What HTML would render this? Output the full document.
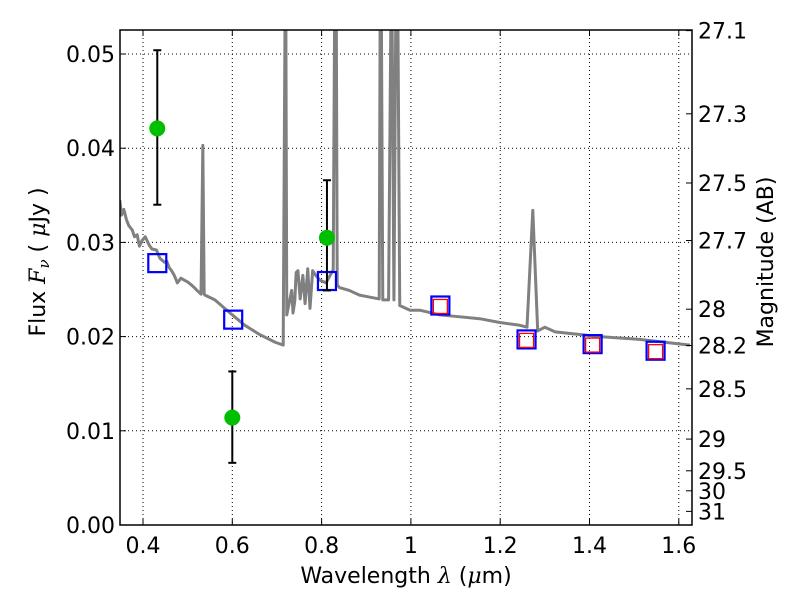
<!DOCTYPE html>
<html><head><meta charset="utf-8"><style>
body{margin:0;background:#fff;}
svg{font-family:"DejaVu Sans","Liberation Sans",sans-serif;}
</style></head><body>
<svg id="c" width="800" height="600"></svg>
<script>
const specWave=[0.348,0.352,0.357,0.363,0.368,0.376,0.381,0.387,0.392,0.398,0.405,0.414,0.420,0.430,0.438,0.448,0.453,0.459,0.464,0.470,0.477,0.485,0.492,0.500,0.508,0.515,0.521,0.530,0.534,0.537,0.539,0.561,0.595,0.628,0.662,0.696,0.714,0.718,0.720,0.722,0.733,0.736,0.740,0.743,0.747,0.752,0.758,0.763,0.769,0.774,0.780,0.787,0.796,0.810,0.826,0.829,0.833,0.835,0.840,0.862,0.885,0.907,0.929,0.931,0.934,0.937,0.950,0.955,0.958,0.962,0.966,0.971,0.975,0.998,1.020,1.065,1.110,1.154,1.199,1.244,1.260,1.273,1.284,1.300,1.323,1.423,1.512,1.625];
const specFlux=[0.0345,0.0329,0.0335,0.0324,0.0318,0.0313,0.0306,0.0308,0.0296,0.0302,0.0306,0.0297,0.0293,0.0292,0.0283,0.0279,0.0280,0.0273,0.0270,0.0265,0.0257,0.0262,0.0260,0.0258,0.0255,0.0252,0.0249,0.0245,0.0403,0.0245,0.0244,0.0239,0.0225,0.0212,0.0202,0.0194,0.0191,0.0530,0.0530,0.0223,0.0249,0.0225,0.0238,0.0268,0.0270,0.0240,0.0265,0.0235,0.0272,0.0230,0.0270,0.0265,0.0260,0.0257,0.0271,0.0530,0.0530,0.0255,0.0252,0.0249,0.0244,0.0242,0.0240,0.0530,0.0530,0.0239,0.0239,0.0530,0.0530,0.0239,0.0530,0.0530,0.0233,0.0228,0.0228,0.0223,0.0221,0.0219,0.0215,0.0212,0.0210,0.0334,0.0206,0.0210,0.0205,0.0200,0.0197,0.0191];
const photWave=[0.432,0.600,0.812];
const photFlux=[0.0421,0.0114,0.0305];
const photErrLo=[0.0340,0.0066,0.0249];
const photErrHi=[0.0504,0.0163,0.0366];
const modelWave=[0.432,0.602,0.812,1.066,1.259,1.407,1.548];
const modelFlux=[0.0278,0.0218,0.0259,0.0233,0.0197,0.0192,0.0185];
const obsWave=[1.066,1.259,1.407,1.548];
const obsFlux=[0.0232,0.0196,0.0191,0.0184];
const xTicks=[0.4,0.6,0.8,1.0,1.2,1.4,1.6];
const xTickLabels=["0.4","0.6","0.8","1","1.2","1.4","1.6"];
const yTicks=[0,0.01,0.02,0.03,0.04,0.05];
const yTickLabels=["0.00","0.01","0.02","0.03","0.04","0.05"];
const magTicks=[27.1,27.3,27.5,27.7,28,28.2,28.5,29,29.5,30,31];

const L=120,R=692,T=30,B=525;
const X=v=>143+(v-0.4)*446.5;
const Y=v=>525-v*9420;
const ns="http://www.w3.org/2000/svg";
const svg=document.getElementById('c');
function el(t,a,p){const e=document.createElementNS(ns,t);for(const k in a)e.setAttribute(k,a[k]);(p||svg).appendChild(e);return e;}

const grid=el('g',{});


xTicks.forEach(v=>el('line',{x1:X(v),x2:X(v),y1:T,y2:B,stroke:'#000','stroke-width':1,'stroke-dasharray':'1,3'},grid));
yTicks.forEach(v=>{if(v>0)el('line',{x1:L,x2:R,y1:Y(v),y2:Y(v),stroke:'#000','stroke-width':1,'stroke-dasharray':'1,3'},grid);});

const clip=el('clipPath',{id:'pc'});el('rect',{x:L,y:T,width:R-L,height:B-T},clip);
const sp=el('polyline',{points:specWave.map((w,i)=>X(w)+','+Y(specFlux[i])).join(' '),fill:'none',stroke:'#808080','stroke-width':3,'stroke-linejoin':'round','clip-path':'url(#pc)'});



modelWave.forEach((w,i)=>{const r=el('rect',{x:X(w)-9,y:Y(modelFlux[i])-9,width:18,height:18,fill:'none',stroke:'#0000ff','stroke-width':2.2});

});
obsWave.forEach((w,i)=>{const r=el('rect',{x:X(w)-7,y:Y(obsFlux[i])-7,width:14,height:14,fill:'none',stroke:'#ff0000','stroke-width':1.3});

});
photWave.forEach((w,i)=>{const g=el('g',{});


const x=X(w);
el('line',{x1:x,x2:x,y1:Y(photErrLo[i]),y2:Y(photErrHi[i]),stroke:'#000','stroke-width':2},g);
[photErrLo[i],photErrHi[i]].forEach(v=>el('line',{x1:x-4,x2:x+4,y1:Y(v),y2:Y(v),stroke:'#000','stroke-width':2},g));
el('circle',{cx:x,cy:Y(photFlux[i]),r:8,fill:'#00bf00'},g);});

const fr=el('rect',{x:L,y:T,width:R-L,height:B-T,fill:'none',stroke:'#000','stroke-width':1.5});



xTicks.forEach((v,i)=>{el('line',{x1:X(v),x2:X(v),y1:B,y2:B-6,stroke:'#000'});el('line',{x1:X(v),x2:X(v),y1:T,y2:T+6,stroke:'#000'});
const t=el('text',{x:X(v),y:B+28,'font-size':22,'text-anchor':'middle'});t.textContent=xTickLabels[i];

});
yTicks.forEach((v,i)=>{el('line',{x1:L,x2:L+6,y1:Y(v),y2:Y(v),stroke:'#000'});
const t=el('text',{x:L-5,y:Y(v)+8,'font-size':22,'text-anchor':'end'});t.textContent=yTickLabels[i];

});
magTicks.forEach(m=>{const f=Math.pow(10,(23.9-m)/2.5);const y=Y(f);
el('line',{x1:R,x2:R-6,y1:y,y2:y,stroke:'#000'});
const t=el('text',{x:R+6,y:y+8,'font-size':22});t.textContent=String(m);

});

const xl=el('text',{x:406,y:583,'font-size':22,'text-anchor':'middle'});xl.innerHTML='Wavelength  <tspan font-style="italic" font-family="DejaVu Serif">λ</tspan> (<tspan font-style="italic" font-family="DejaVu Serif">μ</tspan>m)';


const yl=el('text',{x:0,y:0,'font-size':22,'text-anchor':'middle',transform:'translate(45,262) rotate(-90)'});yl.innerHTML='Flux  <tspan font-style="italic" font-family="DejaVu Serif">F</tspan><tspan font-style="italic" font-size="15" dy="4" font-family="DejaVu Serif">ν</tspan><tspan dy="-4">  (  </tspan><tspan font-style="italic" font-family="DejaVu Serif">μ</tspan>Jy )';


const ml=el('text',{x:0,y:0,'font-size':22,'text-anchor':'middle',transform:'translate(773,262) rotate(-90)'});ml.textContent='Magnitude (AB)';


</script>
</body></html>
